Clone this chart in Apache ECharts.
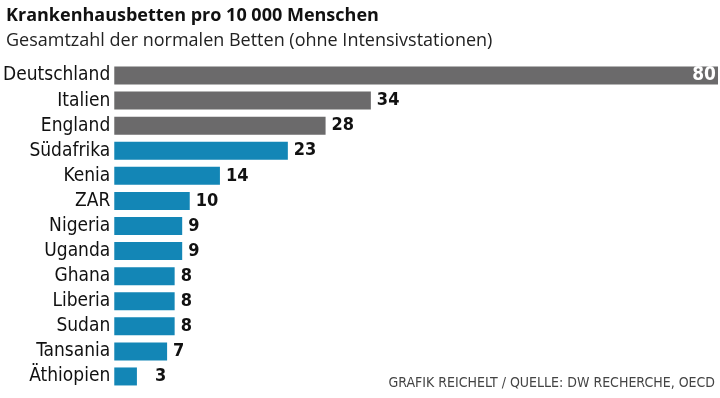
<!DOCTYPE html>
<html><head><meta charset="utf-8">
<script src="https://cdn.jsdelivr.net/npm/echarts@6/dist/echarts.min.js"></script>
<style>html,body{margin:0;padding:0;background:#fff}#c{width:720px;height:398px}</style>
</head><body><div id="c"></div>
<script>
const categories = ["Deutschland","Italien","England","Südafrika","Kenia","ZAR","Nigeria","Uganda","Ghana","Liberia","Sudan","Tansania","Äthiopien"];
const values = [80,34,28,23,14,10,9,9,8,8,8,7,3];
const groups = ["ref","ref","ref","af","af","af","af","af","af","af","af","af","af"];
const title = "Krankenhausbetten pro 10 000 Menschen";
const subtitle = "Gesamtzahl der normalen Betten (ohne Intensivstationen)";
const source = "GRAFIK REICHELT / QUELLE: DW RECHERCHE, OECD";

const GREY = "#6b6a6b", BLUE = "#1386b6";
const narrow = '"Liberation Sans Narrow","DejaVu Sans Condensed",sans-serif';

const data = values.map((v,i)=>{
  const d = {value:v, itemStyle:{color: groups[i]==="ref"?GREY:BLUE}};
  if (i===0) d.label = {position:'insideRight', color:'#fff', distance:2, fontSize:19};
  if (i===categories.length-1) d.label = {distance:18};
  return d;
});

const chart = echarts.init(document.getElementById('c'), null, {renderer:'canvas'});
chart.setOption({
  animation:false,
  title:[
    {text:title, left:1, top:2, textStyle:{fontFamily:'"Open Sans",sans-serif', fontWeight:'bold', fontSize:18, color:'#111'}},
    {text:subtitle, left:1, top:27, textStyle:{fontFamily:'"Open Sans",sans-serif', fontWeight:'normal', fontSize:18, color:'#222'}},
    {text:source, right:0, top:371, textStyle:{fontFamily:narrow, fontWeight:'normal', fontSize:14, color:'#444'}}
  ],
  grid:{left:112, right:2, top:63, bottom:9, containLabel:false},
  xAxis:{type:'value', min:0, max:80, show:false},
  yAxis:{type:'category', data:categories, inverse:true,
    axisLine:{show:false}, axisTick:{show:false},
    axisLabel:{margin:4, fontFamily:narrow, fontSize:19, color:'#111'}},
  series:[{type:'bar', data:data, barWidth:18,
    label:{show:true, position:'right', distance:6, fontFamily:'"DejaVu Sans Condensed",sans-serif', fontWeight:'bold', fontSize:18, color:'#111'}}]
});
</script></body></html>
